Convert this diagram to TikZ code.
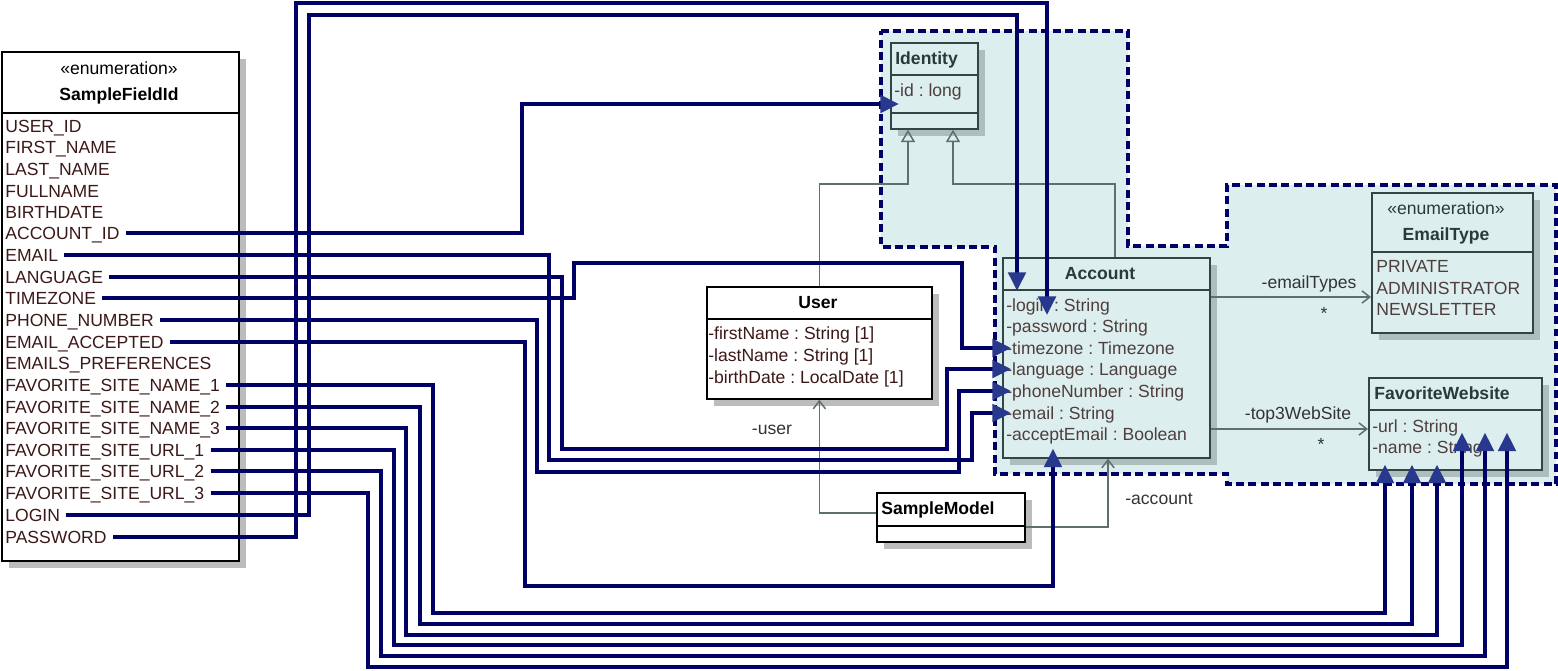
\documentclass[tikz,border=0pt]{standalone}
\usepackage{fontspec}
\setmainfont{Liberation Sans}
\usepackage{tikz}
\usetikzlibrary{arrows.meta,shadows}
\frenchspacing

\definecolor{wirecol}{RGB}{0,0,102}
\definecolor{tipcol}{RGB}{40,56,140}
\definecolor{pkgfill}{RGB}{221,238,238}
\definecolor{pkgline}{RGB}{0,0,102}
\definecolor{slate}{RGB}{50,68,68}
\definecolor{slatetext}{RGB}{40,58,58}
\definecolor{littext}{RGB}{60,24,24}
\definecolor{attrtext}{RGB}{78,62,62}
\definecolor{shadowgray}{RGB}{188,188,188}
\definecolor{pkgshadow}{RGB}{174,189,189}
\definecolor{assoccol}{RGB}{96,110,110}

\begin{document}
\begin{tikzpicture}[
    x=0.02cm, y=-0.02cm,
    font=\fontsize{10}{12}\selectfont,
    box/.style={anchor=north west, inner sep=0pt, line width=1pt, draw=black, fill=white,
        drop shadow={shadow xshift=4pt, shadow yshift=-4pt, fill=shadowgray, opacity=1}},
    pbox/.style={anchor=north west, inner sep=0pt, line width=1pt, draw=slate, fill=pkgfill,
        drop shadow={shadow xshift=4pt, shadow yshift=-4pt, fill=pkgshadow, opacity=1}},
    txt/.style={anchor=west, inner sep=0pt, text height=7.2pt, text depth=0pt, text=littext},
    ptxt/.style={txt, text=attrtext},
    head/.style={inner sep=0pt, text height=7.2pt, text depth=0pt, font=\fontsize{10}{12}\selectfont\bfseries, text=#1},
    head/.default=black,
    lbl/.style={inner sep=0pt, text height=7.2pt, text depth=0pt, text=black!80},
    wire/.style={draw=wirecol, line width=1.9pt, shorten <=3.4pt, -{Triangle[length=10.5pt, width=10pt, color=tipcol]}},
    gen/.style={draw=assoccol, line width=0.85pt, -{Triangle[open, length=7pt, width=8pt]}},
    assoc/.style={draw=assoccol, line width=0.85pt, -{Straight Barb[length=4.5pt, width=7pt]}},
    pkg/.style={draw=pkgline, fill=pkgfill, line width=1.9pt, dash pattern=on 4.5pt off 2.5pt}
]
    \useasboundingbox (0,0) rectangle (1558,670);

    % package
    \draw[pkg] (881,31) -- (1128,31) -- (1128,246) -- (1227,246) -- (1227,185) -- (1556,185)
        -- (1556,484) -- (1227,484) -- (1227,474) -- (995,474) -- (995,247) -- (881,247) -- cycle;

    % classes
    \node[box, minimum width=4.74cm, minimum height=1.22cm] (enumHead) at (1,51) {};
    \node[box, minimum width=4.74cm, minimum height=8.96cm] (enumBody) at (1,112) {};
    \node[box, minimum width=4.5cm, minimum height=0.64cm] (userHead) at (706,286) {};
    \node[box, minimum width=4.5cm, minimum height=1.6cm] (userBody) at (706,318) {};
    \node[box, minimum width=2.96cm, minimum height=0.66cm] (smHead) at (876,492) {};
    \node[box, minimum width=2.96cm, minimum height=0.32cm] (smBody) at (876,525) {};
    \node[pbox, minimum width=1.74cm, minimum height=0.64cm] (identHead) at (890,42) {};
    \node[pbox, minimum width=1.74cm, minimum height=0.76cm] (identAttr) at (890,74) {};
    \node[pbox, minimum width=1.74cm, minimum height=0.32cm] (identOps) at (890,112) {};
    \node[pbox, minimum width=4.14cm, minimum height=0.64cm] (accHead) at (1002,257) {};
    \node[pbox, minimum width=4.14cm, minimum height=3.36cm] (account) at (1002,289) {};
    \node[pbox, minimum width=3.22cm, minimum height=1.18cm] (etHead) at (1371,192) {};
    \node[pbox, minimum width=3.22cm, minimum height=1.62cm] (etBody) at (1371,251) {};
    \node[pbox, minimum width=3.46cm, minimum height=0.64cm] (favHead) at (1368,377) {};
    \node[pbox, minimum width=3.46cm, minimum height=1.2cm] (favBody) at (1368,409) {};

    % SampleFieldId
    \node[lbl, text=black] (enumStereo) at (119,68) {«enumeration»};
    \node[head] (enumName) at (119,94) {SampleFieldId};
    \node[txt] (lUserId) at (5,126) {USER\_ID};
    \node[txt] (lFirstName) at (5,147) {FIRST\_NAME};
    \node[txt] (lLastName) at (5,169) {LAST\_NAME};
    \node[txt] (lFullname) at (5,191) {FULLNAME};
    \node[txt] (lBirthdate) at (5,212) {BIRTHDATE};
    \node[txt] (lAccountId) at (5,233) {ACCOUNT\_ID};
    \node[txt] (lEmail) at (5,255) {EMAIL};
    \node[txt] (lLanguage) at (5,277) {LANGUAGE};
    \node[txt] (lTimezone) at (5,298) {TIMEZONE};
    \node[txt] (lPhone) at (5,320) {PHONE\_NUMBER};
    \node[txt] (lEmailAcc) at (5,342) {EMAIL\_ACCEPTED};
    \node[txt] (lEmailPref) at (5,363) {EMAILS\_PREFERENCES};
    \node[txt] (lName1) at (5,385) {FAVORITE\_SITE\_NAME\_1};
    \node[txt] (lName2) at (5,407) {FAVORITE\_SITE\_NAME\_2};
    \node[txt] (lName3) at (5,428) {FAVORITE\_SITE\_NAME\_3};
    \node[txt] (lUrl1) at (5,450) {FAVORITE\_SITE\_URL\_1};
    \node[txt] (lUrl2) at (5,471) {FAVORITE\_SITE\_URL\_2};
    \node[txt] (lUrl3) at (5,493) {FAVORITE\_SITE\_URL\_3};
    \node[txt] (lLogin) at (5,515) {LOGIN};
    \node[txt] (lPassword) at (5,537) {PASSWORD};

    % User and SampleModel
    \node[head] (userName) at (818,302) {User};
    \node[txt] (uFirst) at (708,333) {-firstName : String [1]};
    \node[txt] (uLast) at (708,355) {-lastName : String [1]};
    \node[txt] (uBirth) at (708,377) {-birthDate : LocalDate [1]};
    \node[head, anchor=west] (smName) at (881,508) {SampleModel};

    % package classes
    \node[head=slatetext, anchor=west] (identName) at (895,58) {Identity};
    \node[ptxt] (aId) at (894,90) {-id : long};
    \node[head=slatetext] (accName) at (1100,273) {Account};
    \node[ptxt] (aLogin) at (1006,305) {-login : String};
    \node[ptxt] (aPassword) at (1006,326) {-password : String};
    \node[ptxt] (aTimezone) at (1006,348) {-timezone : Timezone};
    \node[ptxt] (aLanguage) at (1006,369) {-language : Language};
    \node[ptxt] (aPhone) at (1006,391) {-phoneNumber : String};
    \node[ptxt] (aEmail) at (1006,413) {-email : String};
    \node[ptxt] (aAccept) at (1006,434) {-acceptEmail : Boolean};
    \node[lbl, text=slatetext] (etStereo) at (1446,208) {«enumeration»};
    \node[head=slatetext] (etName) at (1446,234) {EmailType};
    \node[ptxt] (ePrivate) at (1376,266) {PRIVATE};
    \node[ptxt] (eAdmin) at (1376,288) {ADMINISTRATOR};
    \node[ptxt] (eNews) at (1376,309) {NEWSLETTER};
    \node[head=slatetext, anchor=west] (favName) at (1374,393) {FavoriteWebsite};
    \node[ptxt] (aUrl) at (1372,426) {-url : String};
    \node[ptxt] (aName) at (1372,447) {-name : String};

    % inheritance and associations
    \draw[gen] (userHead.north) |- (908,184) -- (908,0 |- identOps.south);
    \draw[gen] (1115,0 |- accHead.north) |- (953,184) -- (953,0 |- identOps.south);
    \draw[assoc] (smHead.west |- 0,513) -| (userBody.south);
    \draw[assoc] (smBody.east |- 0,527) -| (1108,0 |- account.south);
    \draw[assoc] (account.east |- 0,297) -- (etBody.west |- 0,297);
    \draw[assoc] (account.east |- 0,429) -- (favBody.west |- 0,429);
    \node[lbl] (lblTypes) at (1309,282) {-emailTypes};
    \node[lbl] (lblTypesM) at (1324,313) {*};
    \node[lbl] (lblWeb) at (1298,413) {-top3WebSite};
    \node[lbl] (lblWebM) at (1321,444) {*};
    \node[lbl] (lblUser) at (772,428) {-user};
    \node[lbl] (lblAcc) at (1159,498) {-account};

    % field id mapping
    \draw[wire, shorten >=-5pt] (lAccountId.east) -| (522,104) -- (identAttr.west |- 0,104);
    \draw[wire, shorten >=-2.8pt] (lEmail.east) -| (549,460) -- (972,460) |- (aEmail.west);
    \draw[wire, shorten >=-2.8pt] (lLanguage.east) -| (562,449) -- (947,449) |- (aLanguage.west);
    \draw[wire, shorten >=-2.8pt] (lTimezone.east) -| (574,263) -- (962,263) |- (aTimezone.west);
    \draw[wire, shorten >=-2.8pt] (lPhone.east) -| (537,472) -- (959,472) |- (aPhone.west);
    \draw[wire, shorten >=-5.7pt] (lEmailAcc.east) -| (525,586) -| (1053,0 |- account.south);
    \draw[wire, shorten >=-3.4pt] (lName1.east) -| (433,613) -| (1385,0 |- favBody.south);
    \draw[wire, shorten >=-3.4pt] (lName2.east) -| (420,624) -| (1412,0 |- favBody.south);
    \draw[wire, shorten >=-3.4pt] (lName3.east) -| (406,635) -| (1437,0 |- favBody.south);
    \draw[wire] (lUrl1.east) -| (394,645) -| (1462,0 |- aUrl.south);
    \draw[wire] (lUrl2.east) -| (381,656) -| (1485,0 |- aUrl.south);
    \draw[wire] (lUrl3.east) -| (368,667) -| (1507,0 |- aUrl.south);
    \draw[wire] (lLogin.east) -| (309,15) -| (1017,0 |- accHead.south);
    \draw[wire, shorten >=2.5pt] (lPassword.east) -| (296,3) -| (1047,0 |- aPassword.north);
\end{tikzpicture}
\end{document}
